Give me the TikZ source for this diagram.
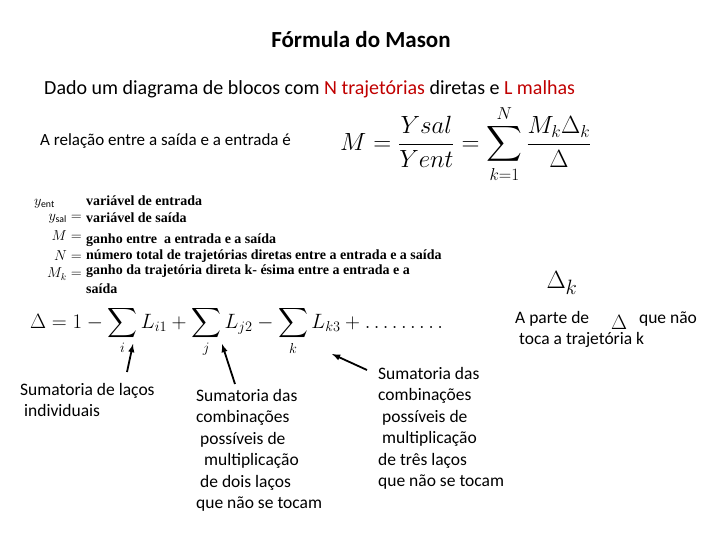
\documentclass[tikz,border=0pt]{standalone}
\usepackage{fontspec}
\setmainfont{Carlito}
\newfontfamily\tnr{Liberation Serif}
\usepackage{amsmath}
\definecolor{redt}{RGB}{192,0,0}
\begin{document}
\begin{tikzpicture}[x=1pt,y=-1pt,
  txt/.style={anchor=west,inner sep=0,font=\fontsize{17}{20}\selectfont},
  sumt/.style={anchor=north west,inner sep=0,align=left,font=\fontsize{17.5}{21.5}\selectfont},
  def/.style={anchor=west,inner sep=0,font=\tnr\bfseries\fontsize{14}{14}\selectfont},
  dm/.style={inner sep=0,anchor=east,font=\fontsize{14}{14}\selectfont},
  arr/.style={-latex,line width=1.8pt}]
\useasboundingbox (0,0) rectangle (720,540);
\node[inner sep=0,font=\bfseries\fontsize{23}{26}\selectfont] (title) at (361,40) {Fórmula do Mason};
\node[txt,font=\fontsize{20}{22}\selectfont] (dado) at (44,89) {Dado um diagrama de blocos com \textcolor{redt}{N trajetórias} diretas e \textcolor{redt}{L malhas}};
\node[txt] (rel) at (40,141) {A relação entre a saída e a entrada é};
\node[inner sep=0,anchor=west,font=\fontsize{24}{28}\selectfont] (M) at (340,144) {$M=\dfrac{Ysal}{Yent}=\displaystyle\sum_{k=1}^{N}\frac{M_k\Delta_k}{\Delta}$};
% definitions
\node[dm] (d1) at (55,204) {$y_{\text{ent}}$};
\node[def] (t1) at (86,201) {variável de entrada};
\node[dm] (d2) at (82,219) {$y_{\text{sal}}=$};
\node[def] (t2) at (86,218) {variável de saída};
\node[dm] (d3) at (82,236) {$M=$};
\node[def] (t3) at (86,240) {ganho entre \ a entrada e a saída};
\node[dm] (d4) at (82,256) {$N=$};
\node[def] (t4) at (86,256) {número total de trajetórias diretas entre a entrada e a saída};
\node[dm] (d5) at (82,274) {$M_k=$};
\node[def] (t5) at (86,271) {ganho da trajetória direta k- ésima entre a entrada e a};
\node[def] (t6) at (86,289) {saída};
% delta formula
\node[inner sep=0,anchor=west,font=\fontsize{20}{24}\selectfont] (D) at (30,332) {$\Delta=1-\displaystyle\sum_i L_{i1}+\sum_j L_{j2}-\sum_k L_{k3}+\ldots\ldots\ldots$};
\node[inner sep=0,font=\fontsize{28}{30}\selectfont] (Dk) at (562,283) {$\Delta_k$};
\node[sumt,anchor=north west] (ap) at (515,311) {A parte de \hspace{2.4em} que não\\\ toca a trajetória k};
\node[inner sep=0,font=\fontsize{22}{24}\selectfont] (Dk2) at (619,322) {$\Delta$};
% sumatorias
\node[sumt] (s1) at (20,383) {Sumatoria de laços\\\ individuais};
\node[sumt] (s2) at (196,389) {Sumatoria das\\combinações\\\ possíveis de\\\ \ multiplicação\\\ de dois laços\\que não se tocam};
\node[sumt] (s3) at (378,367) {Sumatoria das\\combinações\\\ possíveis de\\\ multiplicação\\de três laços\\que não se tocam};
\coordinate (h1) at (133,344);
\coordinate (h2) at (222,344);
\coordinate (h3) at (332,354);
\draw[arr] (127,372) -- (h1);
\draw[arr] (235,384) -- (h2);
\draw[arr] (367,370) -- (h3);
\end{tikzpicture}
\end{document}
